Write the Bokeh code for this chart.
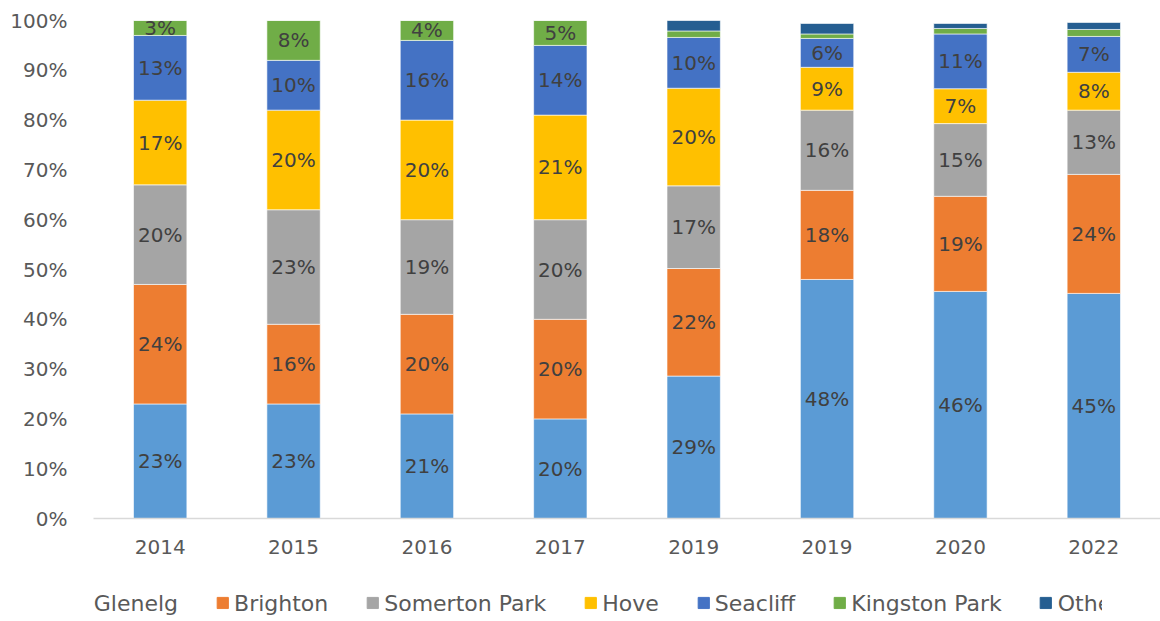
from bokeh.plotting import figure
from bokeh.layouts import column
from bokeh.models import ColumnDataSource, FixedTicker, NumeralTickFormatter, Legend, LegendItem, Range1d
from bokeh.embed import file_html
from bokeh.resources import INLINE
from bokeh.core.properties import value

years = ["2014", "2015", "2016", "2017", "2019", "2019", "2020", "2022"]
series_names = ["Glenelg", "Brighton", "Somerton Park", "Hove", "Seacliff", "Kingston Park", "Other"]
glenelg = [23, 23, 21, 20, 28.6, 48.0, 45.6, 45.2]
brighton = [24, 16, 20, 20, 21.6, 17.9, 19.1, 23.9]
somerton = [20, 23, 19, 20, 16.6, 16.1, 14.6, 12.9]
hove = [17, 20, 20, 21, 19.6, 8.6, 7.0, 7.6]
seacliff = [13, 10, 16, 14, 10.2, 5.8, 11.0, 7.2]
kingston = [3, 8, 4, 5, 1.3, 0.9, 1.1, 1.4]
other = [0, 0, 0, 0, 2.1, 2.1, 1.0, 1.4]
colors = ["#5B9BD5", "#ED7D31", "#A5A5A5", "#FFC000", "#4472C4", "#70AD47", "#255E91"]

series = [glenelg, brighton, somerton, hove, seacliff, kingston, other]
keys = ["s%d" % i for i in range(len(series))]
xs = list(range(len(years)))

data = {"x": xs}
for k, s in zip(keys, series):
    data[k] = [v / 100.0 for v in s]
src = ColumnDataSource(data)

FONT = "DejaVu Sans"

p = figure(frame_width=1067, frame_height=498, output_backend="svg", toolbar_location=None,
           x_range=Range1d(-0.5, len(years) - 0.5), y_range=Range1d(0, 1.0),
           min_border_left=93, min_border_top=20, min_border_right=0, min_border_bottom=66)
p.outline_line_color = None
p.xgrid.grid_line_color = None
p.ygrid.grid_line_color = None
p.background_fill_color = "white"

rs = p.vbar_stack(keys, x="x", width=0.4, source=src, color=colors,
                  line_color="white", line_width=0.6)

# data labels
lx, ly, lt = [], [], []
for i in xs:
    cum = 0.0
    for s in series:
        v = s[i]
        if v >= 2.5:
            lx.append(i)
            ly.append((cum + v / 2.0) / 100.0)
            lt.append("%d%%" % int(v + 0.5))
        cum += v
p.text(x=lx, y=ly, text=lt, text_align="center", text_baseline="middle",
       text_font=value(FONT), text_font_size="20px", text_color="#404040")

# axes
p.yaxis.ticker = FixedTicker(ticks=[i / 10 for i in range(11)])
p.yaxis.formatter = NumeralTickFormatter(format="0%")
p.yaxis.axis_line_color = None
p.yaxis.major_tick_line_color = None
p.yaxis.minor_tick_line_color = None
p.yaxis.major_label_standoff = 20
p.yaxis.major_label_text_font = FONT
p.yaxis.major_label_text_font_size = "20px"
p.yaxis.major_label_text_color = "#595959"

p.xaxis.ticker = FixedTicker(ticks=xs)
p.xaxis.major_label_overrides = {i: y for i, y in zip(xs, years)}
p.xaxis.axis_line_color = "#D9D9D9"
p.xaxis.axis_line_width = 1.5
p.xaxis.major_tick_line_color = None
p.xaxis.minor_tick_line_color = None
p.xaxis.major_tick_out = 0
p.xaxis.major_label_standoff = 21
p.xaxis.major_label_text_font = FONT
p.xaxis.major_label_text_font_size = "20px"
p.xaxis.major_label_text_color = "#595959"

# legend strip below the chart (swatch glyphs sit outside the visible range)
p2 = figure(width=1160, height=37, output_backend="svg", toolbar_location=None,
            x_range=Range1d(0, 1), y_range=Range1d(0, 1),
            x_axis_location=None, y_axis_location=None,
            min_border_left=0, min_border_right=58, min_border_top=0, min_border_bottom=0)
p2.outline_line_color = None
p2.xgrid.grid_line_color = None
p2.ygrid.grid_line_color = None
swatches = [p2.vbar(x=[-10], top=[-10], bottom=[-11], width=0.1, color=c) for c in colors]
legend = Legend(items=[LegendItem(label=n, renderers=[r]) for n, r in zip(series_names, swatches)],
                orientation="horizontal", location="center",
                label_text_font=FONT, label_text_font_size="22px", label_text_color="#595959",
                glyph_width=14, glyph_height=14, spacing=37, label_standoff=5,
                border_line_color=None, background_fill_alpha=0, margin=0, padding=2)
p2.add_layout(legend, "center")

open("out.html", "w").write(file_html(column(p, p2, spacing=0), INLINE))
